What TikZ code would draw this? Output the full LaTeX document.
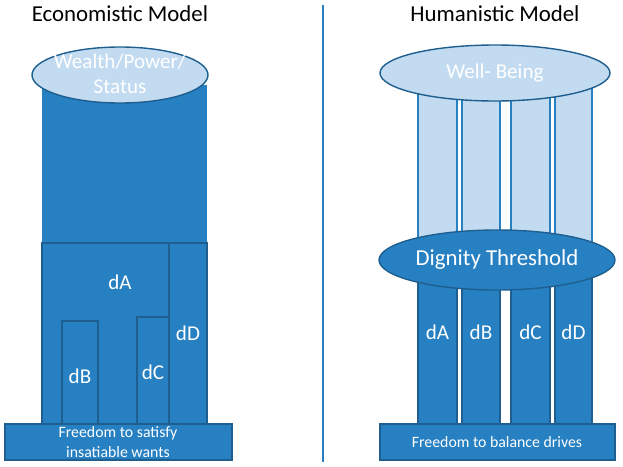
\documentclass[tikz,border=0pt]{standalone}
\usepackage{fontspec}
\setmainfont{Carlito}
\usetikzlibrary{shapes,backgrounds}
\definecolor{barblue}{HTML}{2680C2}
\definecolor{edgeblue}{HTML}{1F5F8F}
\definecolor{paleblue}{HTML}{C3DBF1}
\tikzset{
  bar/.style={draw=edgeblue,line width=0.8pt,fill=barblue},
  pale/.style={draw=barblue,line width=0.8pt,fill=paleblue},
  lbl/.style={text=white,font=\fontsize{12}{14}\selectfont},
  small/.style={text=white,font=\fontsize{9}{11}\selectfont,align=center}
}
\begin{document}
\begin{tikzpicture}[x=0.02cm,y=-0.02cm]
        \useasboundingbox (0,0) rectangle (623,467);
        % titles and divider
        \node[font=\fontsize{13}{15}\selectfont] (econ) at (120,14) {Economistic Model};
        \node[font=\fontsize{13}{15}\selectfont] (human) at (495,14) {Humanistic Model};
        \draw[barblue,line width=0.6pt] (323,5) -- (323,462);
        % left hand
        \fill[barblue] (42,85) rectangle (207,424);
        \draw[bar] (42,243) rectangle (207,424);
        \draw[bar] (62,321) rectangle (98,424);
        \draw[bar] (137,317) rectangle (169,424);
        \draw[bar] (169,243) rectangle (207,424);
        \node[lbl] (dA) at (120,282) {dA};
        \node[lbl] (dB) at (80,376) {dB};
        \node[lbl] (dC) at (153,372) {dC};
        \node[lbl] (dD) at (188,333) {dD};
        \draw[bar] (5,424) rectangle (232,460);
        \node[small] (free1) at (118,442) {Freedom to satisfy\\insatiable wants};
        \draw[pale,draw=edgeblue] (120,75) ellipse [x radius=88,y radius=28];
        \node[lbl,align=center] (wealth) at (120,74) {Wealth/Power/\\Status};
        % right hand
        \foreach \a/\b/\n in {418/457/A,462/500/B,511/550/C,555/592/D}{
          \draw[pale] (\a,88) rectangle (\b,252);
          \draw[bar] (\a,278) rectangle (\b,424);
          \node[lbl] at ({(\a+\b)/2},332) {d\n};
        }
        \draw[bar] (380,424) rectangle (615,460);
        \node[small] (free2) at (497,442) {Freedom to balance drives};
        \draw[pale,draw=edgeblue] (495,73) ellipse [x radius=115,y radius=28];
        \node[lbl] (well) at (495,73) {Well- Being};
        \draw[bar] (497,260) ellipse [x radius=118,y radius=30];
        \node[lbl,font=\fontsize{13}{15}\selectfont] (dign) at (497,260) {Dignity Threshold};
    \end{tikzpicture}
\end{document}
